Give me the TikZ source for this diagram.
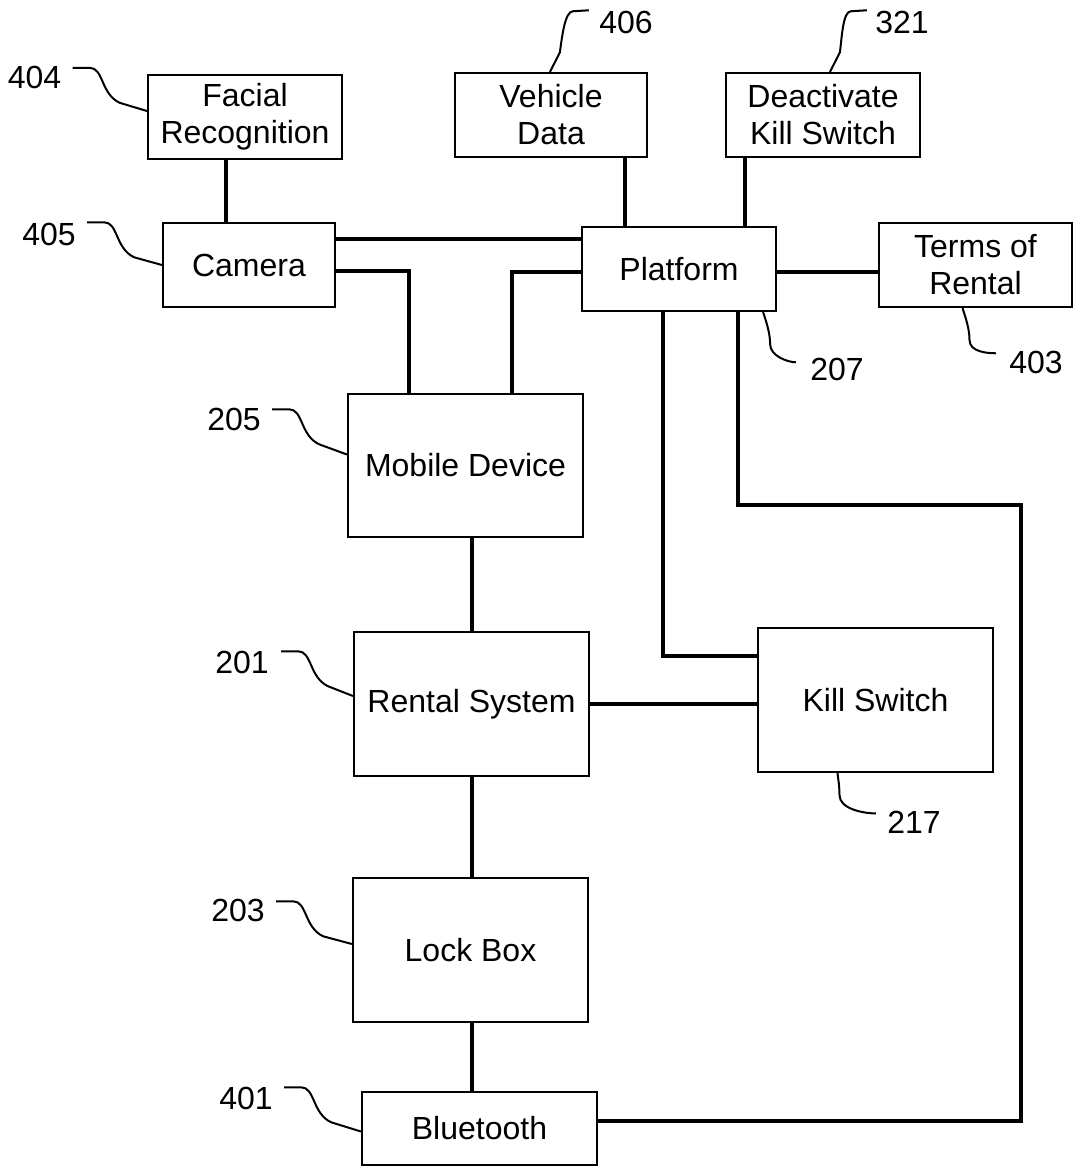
\documentclass[tikz,border=0pt]{standalone}
\usepackage{fontspec}
\setmainfont{Liberation Sans}
\usetikzlibrary{calc}
\tikzset{
    rental diagram/.style = {x=0.5pt, y=-0.5pt, line join=miter},
    box/.style    = {draw, line width=1.1pt, fill=white, align=center,
                     inner sep=0pt, font=\fontsize{16}{18.5}\selectfont},
    wide box/.style  = {box, minimum width=97pt, minimum height=42pt},
    big box/.style   = {box, minimum width=117.5pt, minimum height=72pt},
    wire/.style   = {line width=2pt},
    leader/.style = {line width=1pt},
    refnum/.style = {inner sep=0pt, font=\fontsize{16}{18.5}\selectfont}
}

\begin{document}
\begin{tikzpicture}[rental diagram]
\useasboundingbox (0,0) rectangle (1078,1172);

% ================= Top row =================
\node[wide box] (facial)   at (245,117)   {Facial\\Recognition};
\node[wide box, minimum width=96pt] (vehicle) at (551,115) {Vehicle\\Data};
\node[wide box] (deact)    at (823,115)   {Deactivate\\Kill Switch};

% ================= Second row =================
\node[wide box, minimum width=86pt] (camera) at (249,265) {Camera};
\node[wide box] (platform) at (679,269) {Platform};
\node[wide box, minimum width=96.5pt] (terms) at (975.5,265) {Terms of\\Rental};

% ================= Main column =================
\node[big box, minimum height=71.5pt] (mobile)  at (465.5,465.5) {Mobile Device};
\node[big box, minimum height=72pt]   (rental)  at (471.5,704)   {Rental System};
\node[big box] (kill)      at (875.5,700)    {Kill Switch};
\node[big box] (lockbox)   at (470.5,950)    {Lock Box};
\node[big box, minimum height=36.5pt] (bluetooth) at (479.5,1128.5) {Bluetooth};

% ================= Wire positions =================
\coordinate (jfc) at (226,0);
\coordinate (jvp) at (625,0);
\coordinate (jdp) at (745,0);
\coordinate (jcp) at (0,239);
\coordinate (jcm) at (409,271);
\coordinate (jpm) at (512,272);
\coordinate (jpt) at (0,272);
\coordinate (jpk) at (663,656);
\coordinate (jpb) at (738,505);
\coordinate (jbr) at (1021,1121);
\coordinate (jmain) at (472,0);

% ================= Connections =================
\draw[wire] (facial.south -| jfc) -- (camera.north -| jfc);
\draw[wire] (vehicle.south -| jvp) -- (platform.north -| jvp);
\draw[wire] (deact.south -| jdp) -- (platform.north -| jdp);
\draw[wire] (camera.east |- jcp) -- (platform.west |- jcp);
\draw[wire] (camera.east |- jcm) -| (mobile.north -| jcm);
\draw[wire] (platform.west |- jpm) -| (mobile.north -| jpm);
\draw[wire] (platform.east |- jpt) -- (terms.west |- jpt);
\draw[wire] (platform.south -| jpk) |- (kill.west |- jpk);
\draw[wire] (platform.south -| jpb) |- (jpb -| jbr) -- (jbr)
    -- (bluetooth.east |- jbr);
\draw[wire] (mobile.south -| jmain) -- (rental.north -| jmain);
\draw[wire] (rental.east) -- (rental.east -| kill.west);
\draw[wire] (rental.south -| jmain) -- (lockbox.north -| jmain);
\draw[wire] (lockbox.south -| jmain) -- (bluetooth.north -| jmain);

% ================= Reference numerals =================
\node[refnum] (n404) at (34.5,77.5) {404};
\node[refnum] (n405) at (49,234)    {405};
\node[refnum] (n406) at (626,22)    {406};
\node[refnum] (n321) at (902,22)    {321};
\node[refnum] (n207) at (837,369)   {207};
\node[refnum] (n403) at (1036,362)  {403};
\node[refnum] (n205) at (234,419)   {205};
\node[refnum] (n201) at (242,662)   {201};
\node[refnum] (n217) at (914,822)   {217};
\node[refnum] (n203) at (238,910)   {203};
\node[refnum] (n401) at (246,1098)  {401};

% left-hand leaders
\draw[leader] ($(n404.north east)+(11,2)$) -- ++(17,0)
    .. controls +(14,0) and +(-19,-9) .. ++(30,35) -- ($(facial.west)+(0,-6)$);
\draw[leader] ($(n405.north east)+(11,0)$) -- ++(17,0)
    .. controls +(14,0) and +(-19,-9) .. ++(30,35) -- (camera.west);
\draw[leader] ($(n205.north east)+(11,2)$) -- ++(17,0)
    .. controls +(14,0) and +(-19,-9) .. ++(30,35) -- ($(mobile.west)+(0,-11)$);
\draw[leader] ($(n201.north east)+(12,1)$) -- ++(17,0)
    .. controls +(14,0) and +(-19,-9) .. ++(30,35) -- ($(rental.west)+(0,-8)$);
\draw[leader] ($(n203.north east)+(11,3)$) -- ++(17,0)
    .. controls +(14,0) and +(-19,-9) .. ++(30,35) -- ($(lockbox.west)+(0,-6)$);
\draw[leader] ($(n401.north east)+(11,1)$) -- ++(17,0)
    .. controls +(14,0) and +(-19,-9) .. ++(30,35) -- ($(bluetooth.west)+(0,3)$);

% top leaders
\draw[leader] ($(n406.north west)+(-10,0)$) -- ++(-16,1)
    .. controls +(-8,0) and +(2,-15) .. ++(-13,41) -- ($(vehicle.north)+(-1,0)$);
\draw[leader] ($(n321.north west)+(-8,0)$) -- ++(-16,1)
    .. controls +(-8,0) and +(2,-15) .. ++(-11,41) -- ($(deact.north)+(7,0)$);

% bottom leaders
\draw[leader] ($(platform.south east)+(-14,0)$)
    .. controls +(4,12) and +(0,-10) .. ++(7,32)
    .. controls +(0,12) and +(-8,0) .. ($(n207.north west)+(-14,5)$);
\draw[leader] ($(terms.south)+(-13,0)$)
    .. controls +(4,12) and +(0,-10) .. ++(7,32)
    .. controls +(0,12) and +(-8,0) .. ($(n403.north west)+(-13,3)$);
\draw[leader] ($(kill.south)+(-38,0)$)
    .. controls +(1,8) and +(0,-8) .. ++(2,22)
    .. controls +(0,14) and +(-12,0) .. ($(n217.north west)+(-11,3)$);

\end{tikzpicture}
\end{document}
